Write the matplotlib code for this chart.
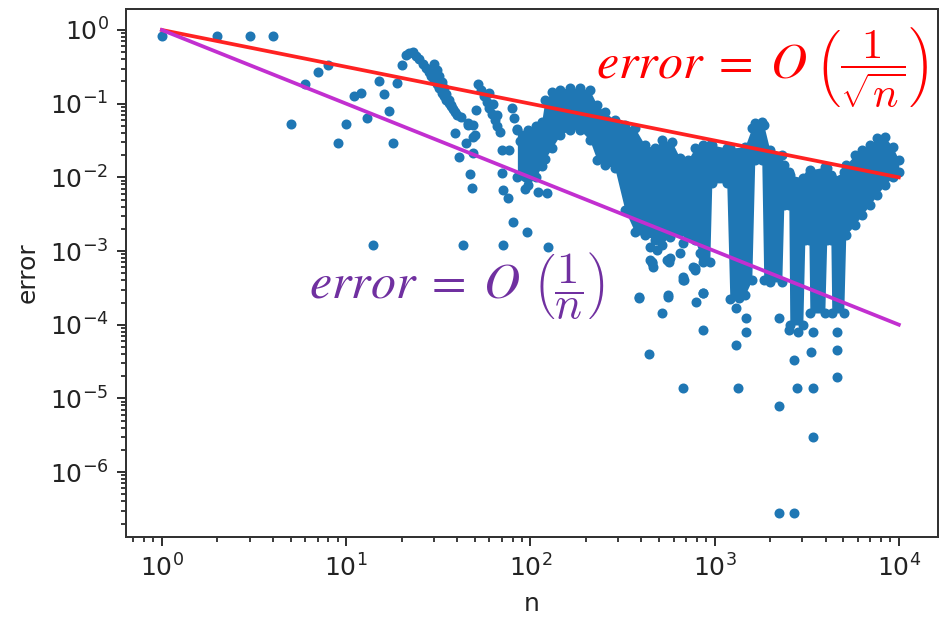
import numpy as np
import matplotlib
matplotlib.use('Agg')
import matplotlib.pyplot as plt
from matplotlib.ticker import LogLocator, NullFormatter

# ---- sparse / individually visible points (n, error) ----
pts_n = [1, 2, 3, 4, 5, 6, 7, 8, 9, 10, 11, 12, 13, 14, 15, 16, 17, 18, 19,
         20, 21, 22, 23,
         24, 25, 26, 27, 28, 29, 30, 31, 32, 33, 34, 35, 36, 37, 38, 39, 40,
         30, 31, 32, 33, 34, 35, 36, 37,
         39, 41, 46, 45, 50, 47, 48, 49, 51, 43, 42, 49, 49, 46,
         52, 54, 56, 58, 60, 62, 64, 66, 68, 60, 63, 66,
         79, 82, 85, 88, 91, 117, 125, 135, 147, 158,
         70, 71, 76, 80, 96, 71, 124, 94, 110, 123, 70, 77,
         389, 438, 517, 560, 673, 680, 780, 790, 860, 870, 1340, 1310, 1310, 1360,
         460, 565, 1490, 1490, 2250, 2250, 2700, 2800, 2250, 2700, 3400, 3350,
         3440, 3440, 4640, 4640, 4640, 2550, 2830,
         392, 445, 485, 550, 445, 570, 650, 765, 830, 675,
         803, 672, 570, 457, 464, 780, 672, 865, 391, 560, 865, 615]
pts_err = [0.832, 0.832, 0.832, 0.832, 0.0537, 0.186, 0.269, 0.339, 0.0295, 0.0537,
           0.126, 0.138, 0.0631, 0.0012, 0.2, 0.135, 0.0794, 0.0295, 0.19,
           0.339, 0.457, 0.49, 0.5,
           0.447, 0.398, 0.347, 0.309, 0.269, 0.24, 0.209, 0.186, 0.162, 0.141, 0.126,
           0.112, 0.102, 0.093, 0.085, 0.078, 0.071,
           0.347, 0.288, 0.24, 0.195, 0.162, 0.135, 0.112, 0.0955,
           0.0398, 0.0191, 0.0513, 0.0288, 0.0372, 0.0112, 0.00708, 0.0214, 0.0813,
           0.0012, 0.066, 0.0355, 0.0513, 0.055,
           0.186, 0.155, 0.126, 0.105, 0.087, 0.0724, 0.0603, 0.0501, 0.0417,
           0.141, 0.1, 0.0708,
           0.087, 0.063, 0.0457, 0.0316, 0.0224, 0.0174, 0.0316, 0.06, 0.105, 0.138,
           0.0115, 0.00676, 0.00525, 0.00245, 0.00182, 0.0012, 0.00112, 0.00692,
           0.00631, 0.00617, 0.0234, 0.0234,
           2.29e-4, 3.98e-5, 1.45e-4, 2.4e-4, 1.38e-5, 4.07e-4, 5.5e-4, 2.04e-4,
           2.69e-4, 8.5e-5, 1.38e-5, 5.25e-5, 1.7e-4, 2.29e-4,
           6.9e-4, 7.1e-4, 1.23e-4, 7.9e-5, 1.23e-4, 7.9e-6, 3.3e-5, 1.38e-5,
           2.75e-7, 2.75e-7, 7.9e-5, 4.3e-5, 1.38e-5, 3.0e-6, 7.9e-5, 4.6e-5,
           1.95e-5, 8.5e-5, 7.9e-5,
           1.95e-3, 1.12e-3, 1.03e-3, 7.6e-4, 7.6e-4, 1.55e-3, 9.3e-4, 6.0e-4,
           9.3e-4, 4.5e-4,
           1.9e-3, 1.29e-3, 8.0e-4, 7.1e-4, 6.0e-4, 5.9e-4, 4.1e-4, 8.3e-4,
           2.4e-4, 2.5e-4, 2.7e-4, 1.3e-2]

# ---- dense region (thousands of overlapping points): upper / lower extent ----
band_n = [85, 97, 107, 115, 120, 131, 145, 164, 186, 210, 230, 254, 287, 326, 369,
          418, 474, 517, 587, 648, 716, 782, 863, 942, 966, 1164, 1210, 1459, 1592,
          1653, 1803, 1849, 1995, 2317, 2376, 2529, 2560, 3013, 3090, 3250, 3290,
          3966, 4064, 4276, 4327, 5026, 5155, 5770, 6296, 6962, 7600, 8400, 9270,
          10000]
band_hi = [0.0437, 0.0437, 0.05, 0.056, 0.112, 0.144, 0.153, 0.163, 0.163, 0.153,
           0.096, 0.077, 0.06, 0.0513, 0.0468, 0.0275, 0.025, 0.0321, 0.0302, 0.0183,
           0.0172, 0.025, 0.0275, 0.0275, 0.0275, 0.025, 0.025, 0.0258, 0.0468,
           0.0547, 0.0564, 0.0513, 0.0235, 0.0201, 0.0147, 0.0118, 0.0108, 0.0098,
           0.0092, 0.0107, 0.0126, 0.0138, 0.0134, 0.0107, 0.0098, 0.0118, 0.0147,
           0.0201, 0.0235, 0.0275, 0.0342, 0.0353, 0.0258, 0.0172]
band_lo = [0.01, 0.0079, 0.01, 0.0141, 0.0178, 0.0251, 0.0376, 0.044, 0.044, 0.0321,
           0.0172, 0.0147, 0.0134, 0.0036, 0.00181, 0.00165, 0.00141, 0.00121,
           0.00181, 0.00181, 0.00165, 0.00141, 0.00071, 0.00071, 0.0084, 0.0084,
           0.00022, 0.00025, 0.0004, 0.0172, 0.0172, 0.0004, 0.00038, 0.00038,
           0.0042, 0.0042, 9.9e-5, 9.9e-5, 0.00141, 0.00141, 0.000144, 0.000144,
           0.00141, 0.00141, 0.000144, 0.000144, 0.00165, 0.00225, 0.00308, 0.0042,
           0.00575, 0.0079, 0.0101, 0.0118]

# ---- reference slopes ----
ref_n = [1, 10000]
ref_sqrt = [1, 0.01]     # O(1/sqrt(n))
ref_inv = [1, 1e-4]      # O(1/n)

DPI = 180
fig = plt.figure(figsize=(940 / DPI, 617 / DPI), dpi=DPI)
ax = fig.add_axes([126 / 940, 1 - 537 / 617, (937.5 - 126) / 940, (537 - 9) / 617])

c0 = '#1f77b4'
ax.fill_between(band_n, band_lo, band_hi, color=c0, lw=0, zorder=2)
ax.plot(band_n, band_hi, '.', color=c0, ms=6, zorder=3)
ax.plot(band_n, band_lo, '.', color=c0, ms=6, zorder=3)
ax.plot(pts_n, pts_err, '.', color=c0, ms=6, zorder=3)
ax.plot(ref_n, ref_sqrt, color='#ff2222', lw=1.5, zorder=4)
ax.plot(ref_n, ref_inv, color='#c22fd0', lw=1.5, zorder=4)

ax.set_xscale('log')
ax.set_yscale('log')
ax.set_xlim(10 ** -0.195, 10 ** 4.21)
ax.set_ylim(10 ** -6.882, 10 ** 0.285)
ax.xaxis.set_major_locator(LogLocator(base=10, numticks=20))
ax.yaxis.set_major_locator(LogLocator(base=10, numticks=20))
ax.xaxis.set_minor_locator(LogLocator(base=10, subs=np.arange(2, 10), numticks=50))
ax.yaxis.set_minor_locator(LogLocator(base=10, subs=np.arange(2, 10), numticks=50))
ax.xaxis.set_minor_formatter(NullFormatter())
ax.yaxis.set_minor_formatter(NullFormatter())
ax.tick_params(colors='#333333', labelcolor='#222222')
for s in ax.spines.values():
    s.set_color('#333333')
ax.set_xlabel('n', color='#222222')
ax.set_ylabel('error', color='#222222')

red = '#ff0000'
purple = '#7030a0'
kw = dict(ha='left', va='center')
# red annotation: "error = O" + "(1/sqrt(n))"
fig.text(596 / 940, 1 - 64 / 617, r'$error\;=\;O$', color=red, fontsize=20,
         math_fontfamily='stix', **kw)
fig.text(815 / 940, 1 - 68 / 617, r'$\left(\dfrac{1}{\sqrt{n}}\right)$',
         color=red, fontsize=17, math_fontfamily='cm', **kw)
# purple annotation: "error = O" + "(1/n)"
fig.text(309 / 940, 1 - 283 / 617, r'$error\;=\;O$', color=purple, fontsize=20,
         math_fontfamily='stix', **kw)
fig.text(533 / 940, 1 - 286 / 617, r'$\left(\dfrac{1}{n}\right)$',
         color=purple, fontsize=18, math_fontfamily='cm', **kw)

fig.savefig('out.png', dpi=DPI)
